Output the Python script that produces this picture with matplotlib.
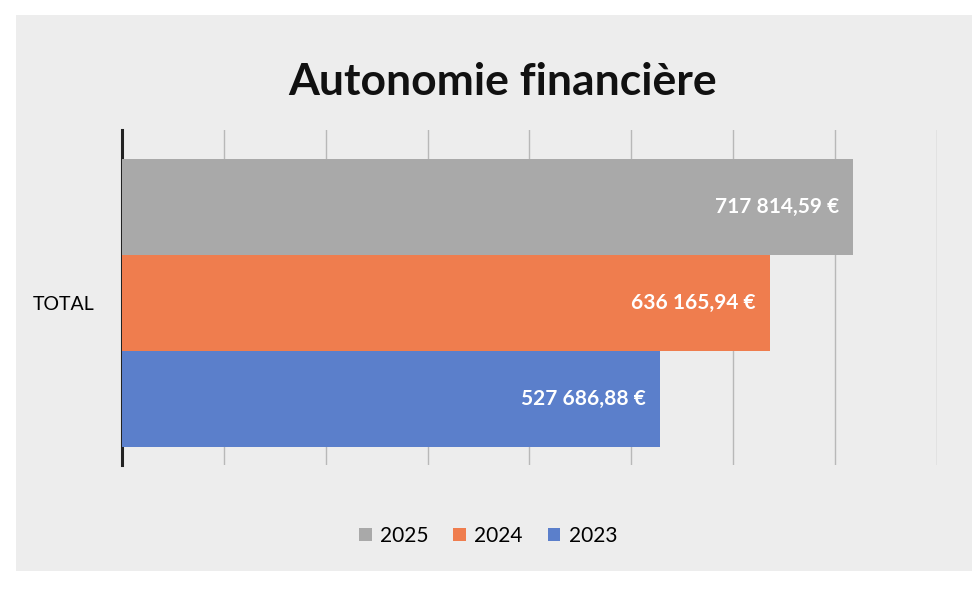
import matplotlib
matplotlib.use("Agg")
import matplotlib.pyplot as plt
from matplotlib.patches import Rectangle

categories = ["TOTAL"]
series = ["2025", "2024", "2023"]
values = [717814.59, 636165.94, 527686.88]
labels = ["717 814,59 €", "636 165,94 €", "527 686,88 €"]
colors = ["#a9a9a9", "#ef7d4e", "#5b7fcb"]

plt.rcParams['font.family'] = ['Lato', 'DejaVu Sans']

fig = plt.figure(figsize=(9.76, 5.89), dpi=100)
fig.patch.set_facecolor("white")
card = Rectangle((0.016, 0.03), 0.98, 0.945, transform=fig.transFigure,
                 facecolor="#ededed", edgecolor="none", zorder=-10)
fig.patches.append(card)

ax = fig.add_axes([0.125, 0.21, 0.835, 0.57])
ax.set_facecolor("none")
ax.set_zorder(1)

bar_h = 0.355
offsets = [bar_h, 0, -bar_h]
for s, v, lab, c, off in zip(series, values, labels, colors, offsets):
    ax.barh(0 + off, v, height=bar_h, color=c, label=s, zorder=3)
    ax.text(v - 14000, 0 + off, lab, ha="right", va="center", color="white",
            fontsize=15, fontweight="bold", zorder=4)

ax.set_xlim(0, 800000)
ax.set_ylim(-0.60, 0.64)
ax.set_xticks(range(0, 800001, 100000))
ax.set_xticklabels([])
ax.tick_params(axis="x", length=0)
ax.grid(axis="x", color="#b8b8b8", linewidth=1, zorder=0)
ax.set_yticks([0])
ax.set_yticklabels(categories, fontsize=14)
ax.tick_params(axis="y", length=0, pad=20)
for sp in ["top", "right", "bottom"]:
    ax.spines[sp].set_visible(False)
ax.spines["left"].set_linewidth(2.2)
ax.spines["left"].set_color("#222222")

fig.text(0.515, 0.86, "Autonomie financière", ha="center", va="center",
         fontsize=32, fontweight="bold", color="#111111")

handles, labs = ax.get_legend_handles_labels()
leg = fig.legend(handles, labs, loc="center", bbox_to_anchor=(0.5, 0.09), ncol=3,
                 frameon=False, fontsize=15, handlelength=0.6, handleheight=0.6,
                 handletextpad=0.4, columnspacing=1.2)

fig.savefig("out.png", dpi=100, facecolor="white")
